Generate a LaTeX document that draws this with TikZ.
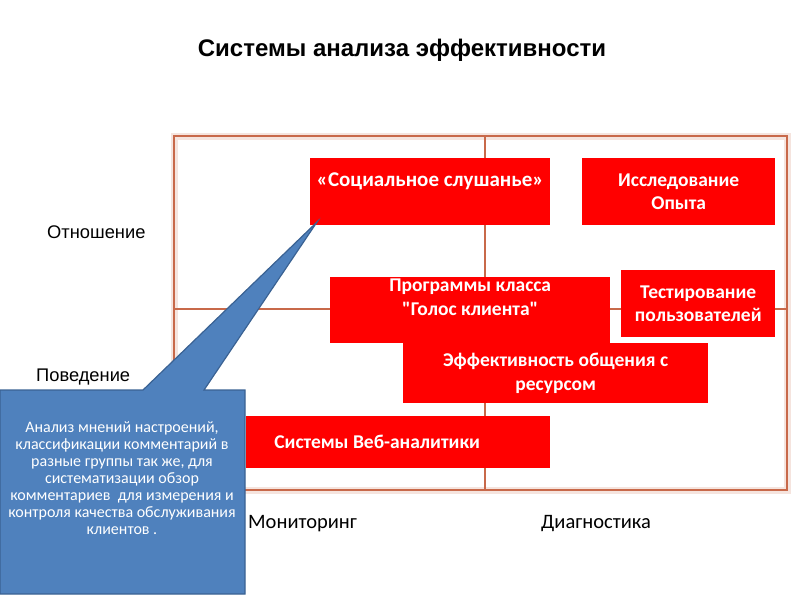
\documentclass[tikz,border=0pt]{standalone}
\usepackage{fontspec}
\setmainfont{Liberation Sans}
\newfontfamily\calibri{Carlito}
\usetikzlibrary{positioning}
\definecolor{boxRed}{HTML}{FF0000}
\definecolor{frameBrown}{HTML}{C8694A}
\definecolor{noteBlue}{HTML}{4F81BD}
\definecolor{noteEdge}{HTML}{3A6293}

\begin{document}
\begin{tikzpicture}[x=1pt, y=-1pt,
  redbox/.style={fill=boxRed, text=white, font=\calibri\bfseries\fontsize{19.5}{23.5}\selectfont,
    align=center, inner sep=2pt, anchor=north west},
  axislabel/.style={font=\fontsize{18.3}{21}\selectfont, anchor=mid west, inner sep=0pt},
  scalelabel/.style={axislabel, font=\calibri\fontsize{20.5}{24}\selectfont},
  frame/.style={draw=frameBrown, line width=2.6pt},
  halo/.style={draw=frameBrown!18, line width=7pt},
  notetext/.style={text=white, font=\calibri\fontsize{16}{17}\selectfont, align=center}
]
\useasboundingbox (0,0) rectangle (794,595);

% Title
\node[font=\bfseries\fontsize{24}{28}\selectfont] (title) at (402,50) {Системы анализа эффективности};

% Quadrant frame
\draw[halo] (174,136) rectangle (787,490);
\draw[frame] (174,136) rectangle (787,490);
\draw[frame] (485,136) -- (485,490);
\draw[frame] (174,309) -- (787,309);

% Red boxes
\node[redbox, minimum width=240, minimum height=67, text depth=24pt] (listen) at (310,158)
  {\fontsize{21}{24}\selectfont«Социальное слушанье»};
\node[redbox, minimum width=193, minimum height=67] (study) at (582,158)
  {Исследование\\Опыта};
\node[redbox, minimum width=280, minimum height=60, text depth=26pt] (voice) at (330,277)
  {Программы класса\\"Голос клиента"};
\node[redbox, minimum width=154, minimum height=67] (usertest) at (621,270)
  {Тестирование\\пользователей};
\node[redbox, minimum width=305, minimum height=60] (resource) at (403,343)
  {Эффективность общения с\\ресурсом};
\node[redbox, minimum width=304, minimum height=52] (webstat) at (246,416)
  {Системы Веб-аналитики\hspace*{42pt}};

% Axis labels
\node[axislabel] (attitude) at (47,236) {Отношение};
\node[axislabel] (behavior) at (36,379) {Поведение};
\node[scalelabel] (monitor) at (248,526) {Мониторинг};
\node[scalelabel] (diagnose) at (541,526) {Диагностика};

% Callout
\coordinate (tip) at (317,222);
\coordinate (noteNW) at (0,390);
\coordinate (noteSE) at (245,594);
\filldraw[fill=noteBlue, draw=noteEdge, line width=1.2pt, line join=miter]
  (noteNW) -- (143,390) -- (tip) -- (204,390) -- (noteNW -| noteSE)
  -- (noteSE) -- (noteNW |- noteSE) -- cycle;
\node[notetext] (note) at (122,478)
  {Анализ мнений настроений,\\классификации комментарий в\\разные группы так же, для\\систематизации обзор\\комментариев\ \ для измерения и\\контроля качества обслуживания\\клиентов .};
\end{tikzpicture}
\end{document}
